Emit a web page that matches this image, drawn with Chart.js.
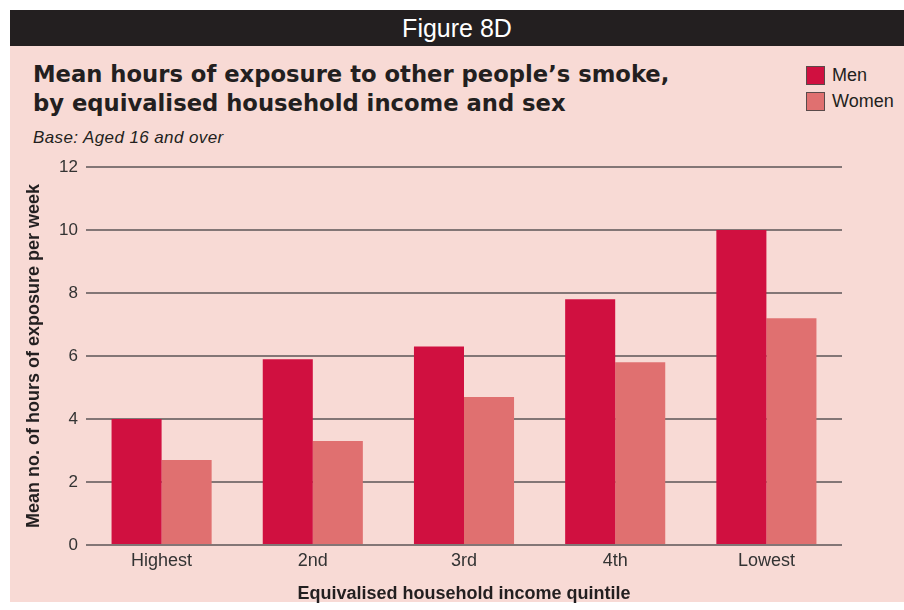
<!DOCTYPE html>
<html>
<head>
<meta charset="utf-8">
<script src="https://cdn.jsdelivr.net/npm/chart.js@4"></script>
<style>
  html, body { margin: 0; padding: 0; background: #ffffff; }
  body { width: 904px; height: 610px; position: relative; overflow: hidden; font-family: "Liberation Sans", Arial, sans-serif; color: #231f20; }
  #panel { position: absolute; left: 10px; top: 10px; width: 894px; height: 592px; background: #f8dad5; }
  #header { position: absolute; left: 10px; top: 10px; width: 894px; height: 36px; background: #231f20; color: #fff; font-size: 25px; line-height: 36px; text-align: center; }
  #title { position: absolute; left: 33px; top: 60px; font-family: "DejaVu Sans", sans-serif; font-size: 22.7px; font-weight: bold; line-height: 29px; }
  #subtitle { position: absolute; left: 33px; top: 128px; font-size: 17px; font-style: italic; letter-spacing: 0.4px; }
  #legend { position: absolute; left: 806px; top: 66px; font-size: 18px; }
  .item { height: 26px; display: flex; align-items: flex-start; }
  .swatch { width: 17px; height: 17px; border: 1px solid #5a4a4a; margin-right: 7px; }
  .item span { line-height: 18px; }
  canvas { position: absolute; left: 0; top: 0; }
</style>
</head>
<body>
<div id="panel"></div>
<div id="header">Figure 8D</div>
<div id="title">Mean hours of exposure to other people’s smoke,<br>by equivalised household income and sex</div>
<div id="subtitle">Base: Aged 16 and over</div>
<div id="legend"></div>
<canvas id="chart" width="904" height="610"></canvas>
<script>
// Chart data
const categories = ['Highest', '2nd', '3rd', '4th', 'Lowest'];
const menValues = [4.0, 5.9, 6.3, 7.8, 10.0];
const womenValues = [2.7, 3.3, 4.7, 5.8, 7.2];
const seriesNames = ['Men', 'Women'];
const seriesColors = ['#d01040', '#e07070'];

const datasets = [
    { label: seriesNames[0], data: menValues, backgroundColor: seriesColors[0] },
    { label: seriesNames[1], data: womenValues, backgroundColor: seriesColors[1] }
];

// Build legend
const legend = document.getElementById('legend');
datasets.forEach(ds => {
    const row = document.createElement('div');
    row.className = 'item';
    row.innerHTML = `<div class="swatch" style="background:${ds.backgroundColor}"></div><span>${ds.label}</span>`;
    legend.appendChild(row);
});

const ctx = document.getElementById('chart').getContext('2d');
new Chart(ctx, {
    type: 'bar',
    data: { labels: categories, datasets: datasets },
    options: {
        responsive: false,
        animation: false,
        events: [],
        layout: { padding: { top: 167, left: 20, right: 62, bottom: 5 } },
        datasets: { bar: { categoryPercentage: 0.662, barPercentage: 1.0 } },
        plugins: { legend: { display: false }, tooltip: { enabled: false } },
        scales: {
            x: {
                grid: { display: false },
                border: { display: false },
                ticks: { color: '#333', padding: -3, font: { family: 'Liberation Sans', size: 18 } },
                title: {
                    display: true,
                    text: 'Equivalised household income quintile',
                    color: '#231f20',
                    padding: { top: 0, bottom: 0 },
                    font: { family: 'Liberation Sans', size: 18, weight: 'bold' }
                },
                afterFit: scale => { scale.height = 60; }
            },
            y: {
                min: 0,
                max: 12,
                ticks: { stepSize: 2, color: '#333', padding: 8, font: { family: 'Liberation Sans', size: 17 } },
                grid: { color: '#837676', lineWidth: 2, drawTicks: false },
                border: { display: false },
                title: {
                    display: true,
                    text: 'Mean no. of hours of exposure per week',
                    color: '#231f20',
                    padding: { top: 3, bottom: 4 },
                    font: { family: 'Liberation Sans', size: 18, weight: 'bold' }
                },
                afterFit: scale => { scale.width = 66; }
            }
        }
    }
});
</script>
</body>
</html>
